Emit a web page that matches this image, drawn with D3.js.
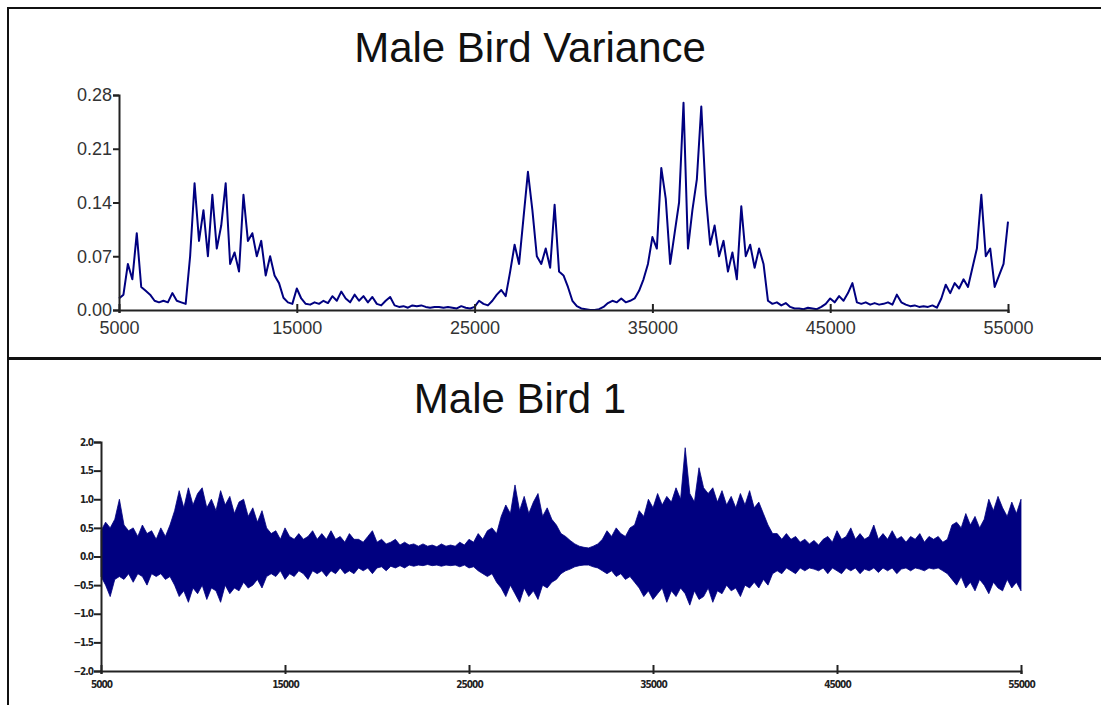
<!DOCTYPE html>
<html lang="en">
<head>
<meta charset="UTF-8">
<title>Male Bird Variance</title>
<style>
    body { margin: 0; background: #fff; }
    svg { display: block; }
    .axis path, .axis line { stroke: #222; stroke-width: 2px; }
    .top-axis text { font-family: "Liberation Sans", Arial, sans-serif; font-size: 18px; fill: #333; }
    .bottom-axis text { font-family: "DejaVu Sans Condensed", "DejaVu Sans", sans-serif; font-size: 10px; font-weight: bold; letter-spacing: -1px; fill: #222; }
    .title { font-family: "Liberation Sans", Arial, sans-serif; font-size: 42px; fill: #111; text-anchor: middle; }
</style>
</head>
<body>
<svg id="chart" width="1101" height="705"></svg>
<script src="https://d3js.org/d3.v7.min.js"></script>
<script>
// sample positions: one value every 250 samples from 5000 to 55000
const sampleStart = 5000;
const sampleStep = 250;
const xTicks = [5000, 15000, 25000, 35000, 45000, 55000];
const varianceTicks = [0, 0.07, 0.14, 0.21, 0.28];
const waveTicks = [-2.0, -1.5, -1.0, -0.5, 0.0, 0.5, 1.0, 1.5, 2.0];

// Male Bird Variance
const variance = [
    0.015, 0.02, 0.06, 0.04, 0.10, 0.03, 0.025, 0.02, 0.012, 0.01,
    0.012, 0.01, 0.022, 0.012, 0.01, 0.008, 0.07, 0.165, 0.09, 0.13,
    0.07, 0.15, 0.08, 0.11, 0.165, 0.06, 0.075, 0.05, 0.15, 0.09,
    0.10, 0.07, 0.09, 0.045, 0.07, 0.045, 0.035, 0.016, 0.01, 0.008,
    0.028, 0.015, 0.008, 0.007, 0.01, 0.008, 0.012, 0.009, 0.018, 0.012,
    0.024, 0.015, 0.01, 0.02, 0.012, 0.018, 0.01, 0.017, 0.008, 0.006,
    0.012, 0.017, 0.006, 0.004, 0.005, 0.003, 0.006, 0.005, 0.006, 0.004,
    0.003, 0.004, 0.004, 0.003, 0.004, 0.003, 0.002, 0.005, 0.003, 0.002,
    0.004, 0.012, 0.008, 0.006, 0.012, 0.02, 0.026, 0.018, 0.05, 0.085,
    0.06, 0.12, 0.18, 0.13, 0.07, 0.06, 0.08, 0.055, 0.137, 0.05,
    0.045, 0.03, 0.012, 0.005, 0.002, 0.001, 0.0, 0.0, 0.001, 0.004,
    0.009, 0.012, 0.01, 0.015, 0.01, 0.012, 0.015, 0.025, 0.04, 0.06,
    0.095, 0.08, 0.185, 0.145, 0.06, 0.10, 0.14, 0.27, 0.08, 0.13,
    0.17, 0.265, 0.15, 0.085, 0.11, 0.07, 0.09, 0.05, 0.075, 0.04,
    0.135, 0.07, 0.085, 0.055, 0.08, 0.06, 0.012, 0.008, 0.01, 0.006,
    0.009, 0.004, 0.002, 0.002, 0.001, 0.003, 0.002, 0.001, 0.004, 0.008,
    0.015, 0.01, 0.018, 0.012, 0.022, 0.035, 0.01, 0.008, 0.01, 0.007,
    0.009, 0.007, 0.008, 0.01, 0.007, 0.02, 0.01, 0.007, 0.005, 0.006,
    0.004, 0.005, 0.004, 0.006, 0.003, 0.015, 0.033, 0.022, 0.035, 0.028,
    0.04, 0.03, 0.055, 0.08, 0.15, 0.07, 0.08, 0.03, 0.045, 0.06,
    0.115
];

// Male Bird 1 waveform envelope (upper and lower peaks per 250 samples)
const waveUpper = [
    0.45, 0.6, 0.5, 0.65, 1.0, 0.55, 0.45, 0.5, 0.35, 0.55,
    0.4, 0.45, 0.3, 0.5, 0.35, 0.55, 0.8, 1.15, 0.85, 1.2,
    0.9, 1.1, 1.2, 0.85, 1.0, 0.8, 1.15, 0.9, 1.05, 0.75,
    0.95, 1.0, 0.7, 0.85, 0.6, 0.8, 0.5, 0.4, 0.45, 0.3,
    0.5, 0.35, 0.3, 0.4, 0.3, 0.35, 0.45, 0.3, 0.4, 0.3,
    0.45, 0.3, 0.35, 0.25, 0.4, 0.3, 0.3, 0.25, 0.35, 0.45,
    0.25, 0.3, 0.22, 0.25, 0.3, 0.2, 0.25, 0.2, 0.22, 0.18,
    0.22, 0.18, 0.2, 0.17, 0.22, 0.18, 0.2, 0.18, 0.25, 0.2,
    0.3, 0.25, 0.4, 0.3, 0.45, 0.5, 0.4, 0.7, 0.9, 0.75,
    1.25, 0.8, 1.05, 0.75, 0.95, 1.1, 0.7, 0.85, 0.65, 0.55,
    0.4, 0.35, 0.28, 0.22, 0.18, 0.16, 0.15, 0.18, 0.22, 0.3,
    0.45, 0.35, 0.5, 0.4, 0.35, 0.5, 0.55, 0.8, 0.7, 1.0,
    0.85, 1.1, 0.9, 1.05, 0.95, 1.2, 1.0, 1.9, 1.1, 0.95,
    1.55, 1.2, 1.1, 1.2, 0.95, 1.15, 0.9, 1.05, 0.85, 1.1,
    0.9, 1.15, 0.85, 0.95, 0.75, 0.55, 0.4, 0.4, 0.3, 0.4,
    0.3, 0.35, 0.25, 0.3, 0.22, 0.28, 0.2, 0.3, 0.35, 0.25,
    0.45, 0.3, 0.35, 0.5, 0.3, 0.4, 0.3, 0.35, 0.55, 0.3,
    0.4, 0.3, 0.45, 0.3, 0.35, 0.25, 0.35, 0.3, 0.4, 0.25,
    0.35, 0.3, 0.35, 0.25, 0.3, 0.55, 0.6, 0.5, 0.75, 0.55,
    0.7, 0.5, 0.65, 1.0, 0.8, 1.05, 0.85, 0.7, 0.95, 0.75,
    1.0
];
const waveLower = [
    -0.35, -0.5, -0.7, -0.4, -0.35, -0.4, -0.3, -0.45, -0.3, -0.35,
    -0.5, -0.3, -0.35, -0.3, -0.4, -0.35, -0.5, -0.7, -0.6, -0.8,
    -0.55, -0.65, -0.5, -0.75, -0.55, -0.6, -0.8, -0.5, -0.65, -0.55,
    -0.6, -0.45, -0.55, -0.5, -0.4, -0.55, -0.35, -0.3, -0.35, -0.25,
    -0.4, -0.3, -0.35, -0.25, -0.3, -0.4, -0.25, -0.3, -0.25, -0.35,
    -0.25, -0.3, -0.2, -0.3, -0.25, -0.3, -0.2, -0.25, -0.2, -0.3,
    -0.2, -0.18, -0.25, -0.17, -0.2, -0.16, -0.2, -0.15, -0.17, -0.15,
    -0.16, -0.14, -0.16, -0.15, -0.17, -0.15, -0.16, -0.15, -0.18, -0.15,
    -0.2, -0.18, -0.25, -0.3, -0.35, -0.3, -0.45, -0.55, -0.7, -0.5,
    -0.65, -0.8, -0.55, -0.7, -0.6, -0.75, -0.5, -0.55, -0.45, -0.4,
    -0.3, -0.25, -0.22, -0.18, -0.16, -0.15, -0.15, -0.18, -0.2, -0.25,
    -0.3, -0.25, -0.35, -0.3, -0.4, -0.35, -0.45, -0.55, -0.7, -0.6,
    -0.75, -0.65, -0.55, -0.8, -0.6, -0.7, -0.55, -0.65, -0.85, -0.6,
    -0.75, -0.7, -0.55, -0.8, -0.6, -0.65, -0.5, -0.6, -0.55, -0.7,
    -0.5, -0.55, -0.45, -0.55, -0.4, -0.5, -0.3, -0.25, -0.3, -0.2,
    -0.25, -0.3, -0.2, -0.25, -0.2, -0.22, -0.25, -0.2, -0.3, -0.2,
    -0.25, -0.3, -0.2, -0.25, -0.2, -0.3, -0.22, -0.25, -0.2, -0.28,
    -0.2, -0.25, -0.2, -0.3, -0.22, -0.2, -0.25, -0.2, -0.22, -0.25,
    -0.2, -0.22, -0.2, -0.25, -0.3, -0.4, -0.5, -0.35, -0.55, -0.45,
    -0.6, -0.4, -0.5, -0.65, -0.45, -0.55, -0.6, -0.4, -0.55, -0.45,
    -0.6
];

const svg = d3.select('#chart');
const navy = '#000080';

// frame and divider
svg.append('line').attr('x1', 8).attr('x2', 8).attr('y1', 7).attr('y2', 705)
    .attr('stroke', '#111').attr('stroke-width', 2);
svg.append('line').attr('x1', 7).attr('x2', 1101).attr('y1', 8).attr('y2', 8)
    .attr('stroke', '#111').attr('stroke-width', 2);
svg.append('line').attr('x1', 8).attr('x2', 1101).attr('y1', 358.5).attr('y2', 358.5)
    .attr('stroke', '#111').attr('stroke-width', 3);

const sampleAt = i => sampleStart + i * sampleStep;

// ---- top chart: variance ----
const x1 = d3.scaleLinear().domain([5000, 55000]).range([119, 1008]);
const y1 = d3.scaleLinear().domain([0, 0.28]).range([310, 95]);

svg.append('text').attr('class', 'title').attr('x', 530).attr('y', 62).text('Male Bird Variance');

svg.append('path')
    .datum(variance)
    .attr('fill', 'none')
    .attr('stroke', navy)
    .attr('stroke-width', 2)
    .attr('stroke-linejoin', 'round')
    .attr('d', d3.line().x((d, i) => x1(sampleAt(i))).y(d => y1(d)));

svg.append('g').attr('class', 'axis top-axis')
    .attr('transform', 'translate(119,0)')
    .call(d3.axisLeft(y1).tickValues(varianceTicks).tickFormat(d3.format('.2f')).tickSizeOuter(0).tickSize(6).tickPadding(1));

const xa1 = svg.append('g').attr('class', 'axis top-axis')
    .attr('transform', 'translate(0,310)')
    .call(d3.axisBottom(x1).tickValues(xTicks).tickFormat(d3.format('d')).tickSizeOuter(0).tickSize(3).tickPadding(8));
xa1.selectAll('.tick line').attr('y1', -6);

// ---- bottom chart: waveform ----
const x2 = d3.scaleLinear().domain([5000, 55000]).range([101, 1021]);
const y2 = d3.scaleLinear().domain([-2, 2]).range([671, 442]);

svg.append('text').attr('class', 'title').attr('x', 520).attr('y', 413).text('Male Bird 1');

svg.append('path')
    .datum(waveUpper.map((u, i) => ({ s: sampleAt(i), hi: u, lo: waveLower[i] })))
    .attr('fill', navy)
    .attr('stroke', navy)
    .attr('stroke-width', 0.8)
    .attr('d', d3.area().x(d => x2(d.s)).y0(d => y2(d.lo)).y1(d => y2(d.hi)));

svg.append('g').attr('class', 'axis bottom-axis')
    .attr('transform', 'translate(101,0)')
    .call(d3.axisLeft(y2).tickValues(waveTicks).tickFormat(d3.format('.1f')).tickSizeOuter(0).tickSize(7).tickPadding(1));

const xa2 = svg.append('g').attr('class', 'axis bottom-axis')
    .attr('transform', 'translate(0,671)')
    .call(d3.axisBottom(x2).tickValues(xTicks).tickFormat(d3.format('d')).tickSizeOuter(0).tickSize(3).tickPadding(7));
xa2.selectAll('.tick line').attr('y1', -6);
</script>
</body>
</html>
